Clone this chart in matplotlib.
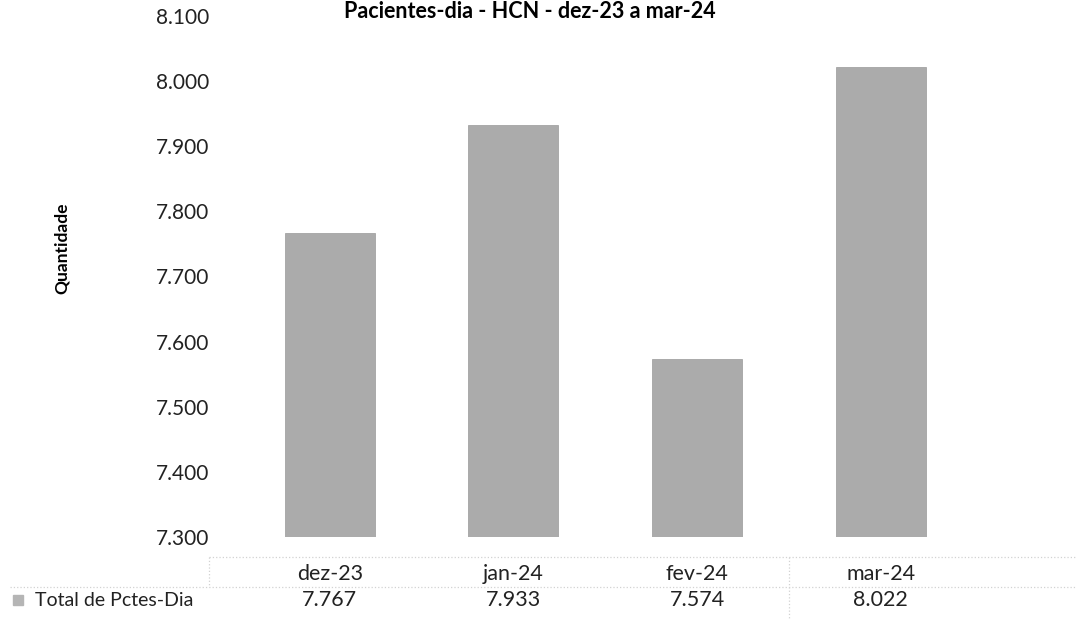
import matplotlib.pyplot as plt
from matplotlib.ticker import FuncFormatter

# data
months = ["dez-23", "jan-24", "fev-24", "mar-24"]
pacientes_dia = [7767, 7933, 7574, 8022]
series_name = "Total de Pctes-Dia"
title = "Pacientes-dia - HCN - dez-23 a mar-24"

plt.rcParams['font.family'] = ['Lato', 'DejaVu Sans']

def br_fmt(v, pos=None):
    return f"{v:,.0f}".replace(",", ".")

fig = plt.figure(figsize=(10.77, 6.19), dpi=100)
ax = fig.add_axes([0.221, 0.1325, 0.682, 0.8417])

x = list(range(len(months)))
ax.bar(x, pacientes_dia, width=0.49, color="#ababab", edgecolor="#9a9a9a", linewidth=0.5)

ax.set_ylim(7300, 8100)
ax.set_xlim(-0.5, len(months) - 0.5)
ax.set_yticks(range(7300, 8101, 100))
ax.yaxis.set_major_formatter(FuncFormatter(br_fmt))
ax.tick_params(axis="y", length=0, pad=21, labelsize=15, labelcolor="#222222")
ax.set_xticks([])
for s in ax.spines.values():
    s.set_visible(False)

ax.set_ylabel("Quantidade", fontsize=12.5, fontweight="bold")
ax.yaxis.set_label_coords(-0.229, 0.555)

fig.text(530 / 1077, 1 - 1 / 619, title, ha="center", va="top",
         fontsize=15.5, fontweight="bold")

# data table under the plot
trans = ax.get_xaxis_transform()
for xi, m, v in zip(x, months, pacientes_dia):
    ax.text(xi, -0.071, m, transform=trans, ha="center", va="center",
            fontsize=15.5, color="#222222")
    ax.text(xi, -0.121, br_fmt(v), transform=trans, ha="center", va="center",
            fontsize=15.5, color="#222222")

ax.text(-0.2766, -0.121, series_name, transform=ax.transAxes, ha="left",
        va="center", fontsize=14, color="#222222", clip_on=False)
ax.plot([-0.3], [-0.121], transform=ax.transAxes, marker="s", markersize=7,
        color="#b5b5b5", clip_on=False)

dots = dict(color="#d2d2d2", linestyle=":", linewidth=0.9, clip_on=False,
            transform=ax.transAxes)
ax.plot([-0.04, 1.15], [-0.038, -0.038], **dots)
ax.plot([-0.31, 1.15], [-0.096, -0.096], **dots)
ax.plot([-0.04, -0.04], [-0.038, -0.096], **dots)
ax.plot([0.75, 0.75], [-0.038, -0.16], **dots)

fig.savefig("out.png", dpi=100)
